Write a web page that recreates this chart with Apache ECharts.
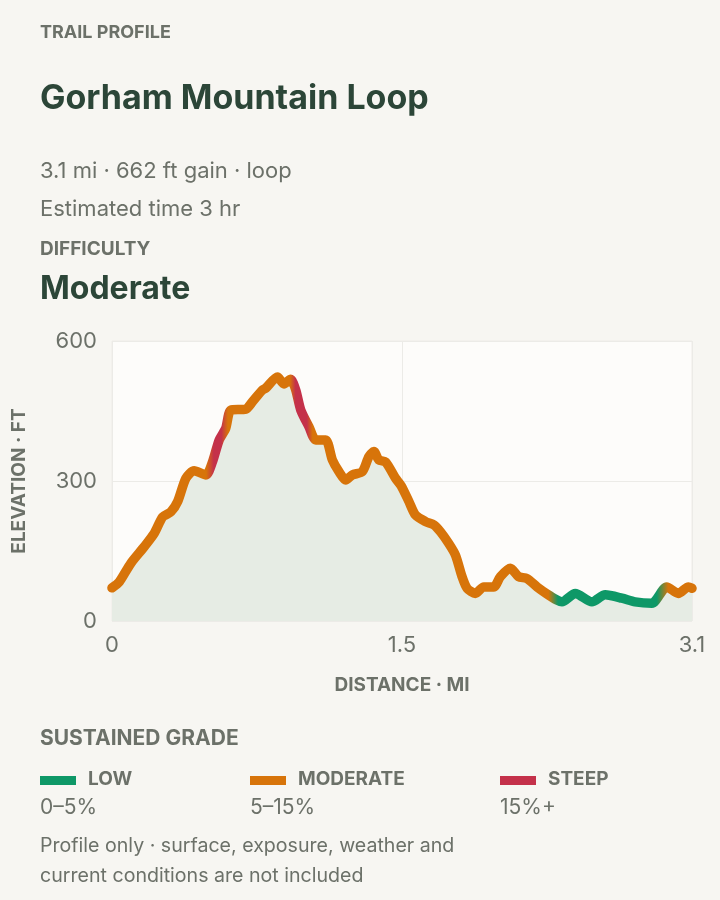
<!DOCTYPE html>
<html><head><meta charset="utf-8">
<script src="https://cdn.jsdelivr.net/npm/echarts@6/dist/echarts.min.js"></script>
<style>html,body{margin:0;padding:0;background:#f7f6f2;}#c{width:720px;height:900px;}</style>
</head><body><div id="c"></div>
<script>
// ---- data ----
const distanceMi = [0,0.039,0.101,0.172,0.226,0.271,0.315,0.351,0.395,0.439,0.502,0.537,0.573,0.608,0.635,0.715,0.751,0.804,0.822,0.884,0.919,0.955,0.982,1.009,1.053,1.089,1.142,1.178,1.213,1.249,1.284,1.338,1.373,1.400,1.426,1.462,1.515,1.545,1.587,1.622,1.676,1.720,1.756,1.800,1.836,1.871,1.898,1.942,1.987,2.040,2.076,2.129,2.173,2.218,2.272,2.325,2.378,2.405,2.476,2.565,2.636,2.725,2.796,2.885,2.965,3.027,3.081,3.1];
const elevationFt = [71,84,124,159,188,223,234,256,306,322,313,341,388,413,452,454,470,495,499,523,508,518,495,452,416,388,388,345,320,302,313,320,352,363,345,341,306,290,256,227,213,206,191,166,141,95,70,59,73,73,95,113,95,91,73,58,45,41,59,41,56,49,41,38,73,59,73,70];
const xTickLabels = ['0','1.5','3.1'];
const yTickValues = [0,300,600];
// grade colour stops along the trail: [mile, grade class]
const gradeStopMi = [0,0.52,0.56,0.60,0.635,0.96,0.99,1.05,1.08,2.32,2.37,2.89,2.95,3.1];
const gradeStopClass = ['moderate','moderate','steep','steep','moderate','moderate','steep','steep','moderate','moderate','low','low','moderate','moderate'];
const gradeNames = ['LOW','MODERATE','STEEP'];
const gradeRanges = ['0–5%','5–15%','15%+'];
const gradeKeys = ['low','moderate','steep'];
const gradeColors = {low:'#0e9867', moderate:'#d7740a', steep:'#c4314a'};

// ---- chart ----
const FONT = 'Inter, "Noto Sans", sans-serif';
const GRAY = '#6c7169';
const DARK = '#2c4638';
const totalMi = distanceMi[distanceMi.length-1];
const lineData = distanceMi.map((d,i)=>[d, elevationFt[i]]);
const stops = gradeStopMi.map((m,i)=>({offset: m/totalMi, color: gradeColors[gradeStopClass[i]]}));

const chart = echarts.init(document.getElementById('c'), null, {renderer:'canvas'});

function t(x, y, s, size, weight, color){
  return {type:'text', x:x, y:y, style:{text:s, font: weight+' '+size+'px '+FONT, fill:color, verticalAlign:'middle'}};
}
const graphics = [
  t(40, 32.5, 'TRAIL PROFILE', 18, 700, GRAY),
  t(40, 98.5, 'Gorham Mountain Loop', 34, 700, DARK),
  t(40, 171, '3.1 mi · 662 ft gain · loop', 22, 400, GRAY),
  t(40, 209, 'Estimated time 3 hr', 22, 400, GRAY),
  t(40, 249.5, 'DIFFICULTY', 19, 700, GRAY),
  t(40, 289.5, 'Moderate', 32, 700, DARK),
  t(40, 739, 'SUSTAINED GRADE', 21, 700, GRAY),
  t(40, 846, 'Profile only · surface, exposure, weather and', 19.6, 400, GRAY),
  t(40, 876, 'current conditions are not included', 19.6, 400, GRAY)
];
const legendX = [40, 250, 500];
gradeKeys.forEach((k,i)=>{
  graphics.push({type:'rect', shape:{x:legendX[i], y:776, width:36, height:9}, style:{fill:gradeColors[k]}});
  graphics.push(t(legendX[i]+48, 779, gradeNames[i], 19, 700, GRAY));
  graphics.push(t(legendX[i], 808, gradeRanges[i], 21, 400, GRAY));
});

chart.setOption({
  backgroundColor:'#f7f6f2',
  animation:false,
  textStyle:{fontFamily:FONT},
  grid:{left:112, right:28, top:341, bottom:279, show:true, backgroundColor:'#fdfcfa', borderColor:'#eeede9', borderWidth:1},
  xAxis:{type:'value', min:0, max:totalMi, interval:totalMi/2,
    name:'DISTANCE · MI', nameLocation:'middle', nameGap:55,
    nameTextStyle:{color:GRAY, fontSize:19, fontWeight:700, fontFamily:FONT},
    axisLine:{show:false}, axisTick:{show:false},
    axisLabel:{color:GRAY, fontSize:22, margin:13, showMinLabel:true, showMaxLabel:true,
      formatter:(v)=>xTickLabels[Math.round(v/(totalMi/2))]},
    splitLine:{show:true, lineStyle:{color:'#ecebe7', width:1}}},
  yAxis:{type:'value', min:yTickValues[0], max:yTickValues[yTickValues.length-1], interval:yTickValues[1]-yTickValues[0],
    name:'ELEVATION · FT', nameLocation:'middle', nameGap:83,
    nameTextStyle:{color:GRAY, fontSize:19, fontWeight:700, fontFamily:FONT},
    axisLine:{show:false}, axisTick:{show:false},
    axisLabel:{color:GRAY, fontSize:22, margin:15},
    splitLine:{show:true, lineStyle:{color:'#ecebe7', width:1}}},
  graphic:graphics,
  series:[{
    type:'line', data:lineData, showSymbol:false, smooth:0.25,
    lineStyle:{width:9.5, cap:'round', join:'round',
      color:new echarts.graphic.LinearGradient(0,0,1,0,stops)},
    areaStyle:{color:'#e6ece4', opacity:1}
  }]
});
</script></body></html>
